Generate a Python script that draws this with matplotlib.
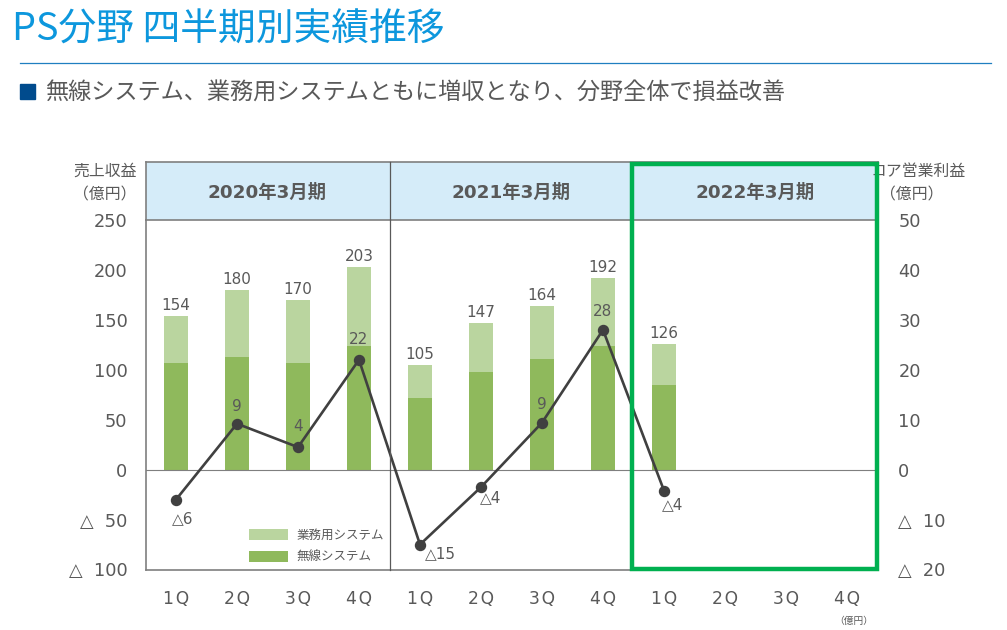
"""
PS segment quarterly results: stacked revenue bars with core operating profit line
"""
import numpy as np
import matplotlib.pyplot as plt
from matplotlib.patches import Rectangle

plt.rcParams['font.family'] = ['DejaVu Sans', 'Noto Sans CJK JP']

#%% Data
quarters = ['1\u200aQ', '2\u200aQ', '3\u200aQ', '4\u200aQ'] * 3
fiscal_years = ['2020年3月期', '2021年3月期', '2022年3月期']
wireless = [107, 113, 107, 124, 72, 98, 111, 124, 85]
business = [47, 67, 63, 79, 33, 49, 53, 68, 41]
totals = [154, 180, 170, 203, 105, 147, 164, 192, 126]
profit = [-6, 9.2, 4.5, 22, -15, -3.5, 9.4, 28, -4.2]
profit_labels = ['△6', '9', '4', '22', '△15', '△4', '9', '28', '△4']
revenue_ticks = [-100, -50, 0, 50, 100, 150, 200, 250]
revenue_tick_labels = ['△  100', '△  50', '0', '50', '100', '150', '200', '250']
profit_ticks = [-20, -10, 0, 10, 20, 30, 40, 50]
profit_tick_labels = ['△  20', '△  10', '0', '10', '20', '30', '40', '50']

#%% Styles
TEXT = '#595959'
FRAME = '#7f7f7f'
W, H = 1007, 630


def box(left, top, right, bottom):
    # pixel box (y from the top) to figure fractions
    return [left / W, 1 - bottom / H, (right - left) / W, (bottom - top) / H]


fig = plt.figure(figsize=(W / 100, H / 100), dpi=100)
ax = fig.add_axes(box(145.5, 220, 877.5, 569.5))
ax_head = fig.add_axes(box(145.5, 162, 877.5, 220))
ax2 = ax.twinx()

#%% Bars
x = np.arange(len(wireless)) + 0.5
bar_wireless = ax.bar(x, wireless, width=0.4, color='#8FB95C', label='無線システム')
bar_business = ax.bar(x, business, width=0.4, bottom=wireless, color='#BAD59F', label='業務用システム')
for xi, top, total in zip(x, np.add(wireless, business), totals):
    ax.annotate(str(total), (xi, top), xytext=(0, 2.2), textcoords='offset points',
                ha='center', va='bottom', fontsize=11, color=TEXT)

ax.axhline(0, color=FRAME, lw=0.8, zorder=1)
ax.set_xlim(0, 12)
ax.set_ylim(-100, 250)
ax.set_xticks(np.arange(12) + 0.5)
ax.set_xticklabels(quarters, fontsize=12.3, color=TEXT)
ax.set_yticks(revenue_ticks)
ax.set_yticklabels(revenue_tick_labels, fontsize=12.8, color=TEXT)
ax.tick_params(axis='x', length=0, pad=15)
ax.tick_params(axis='y', length=0, pad=13)

#%% Profit line
ax2.plot(x, profit, color='#404040', lw=1.9, marker='o', ms=7.2)
ax2.set_ylim(-20, 50)
ax2.set_yticks(profit_ticks)
ax2.set_yticklabels(profit_tick_labels, fontsize=12.8, color=TEXT)
ax2.tick_params(axis='y', length=0, pad=15)

label_offsets = [(5, -8), (0, 7), (0, 9.5), (0, 9), (15, -1), (7, -2.5), (0, 8), (0, 8), (6, -5)]
for xi, yi, text, (dx, dy) in zip(x, profit, profit_labels, label_offsets):
    ax2.annotate(text, (xi, yi), xytext=(dx, dy), textcoords='offset points',
                 ha='center', va='bottom' if dy > 0 else 'top', fontsize=11, color=TEXT)

for a in (ax, ax2):
    for side in ['top', 'right']:
        a.spines[side].set_visible(False)
    for side in ['left', 'bottom']:
        a.spines[side].set_color(FRAME)
        a.spines[side].set_linewidth(1.2)
ax2.spines['left'].set_visible(False)
ax2.spines['bottom'].set_visible(False)
ax2.spines['right'].set_visible(False)

ax.legend(handles=[bar_business, bar_wireless], loc='lower left',
          bbox_to_anchor=(0.136, 0.006), frameon=False, fontsize=9, labelcolor=TEXT,
          handlelength=3.1, handleheight=1.0, handletextpad=0.75, labelspacing=0.72,
          borderpad=0.3, borderaxespad=0)

#%% Header band
ax_head.set_facecolor('#D5ECF9')
ax_head.set_xlim(0, 12)
ax_head.set_ylim(0, 1)
ax_head.set_xticks([])
ax_head.set_yticks([])
for spine in ax_head.spines.values():
    spine.set_color(FRAME)
    spine.set_linewidth(1.2)
for xc, label in zip([2, 6, 10], fiscal_years):
    ax_head.text(xc, 0.47, label, ha='center', va='center', fontsize=13.2,
                 fontweight='bold', color=TEXT)

#%% Figure level text and overlays (pixel coordinates through a shared transform)
px = fig.add_axes([0, 0, 1, 1], facecolor='none')
px.set_xlim(0, W)
px.set_ylim(H, 0)
px.axis('off')

px.plot([389.5, 389.5], [162, 570], color=TEXT, lw=0.9)
px.plot([20, 991], [63, 63], color='#1F7FC0', lw=0.9)
px.add_patch(Rectangle((20, 84), 15, 15, color='#004B8D'))

cjk = ['Noto Sans CJK JP', 'DejaVu Sans']
px.text(12, 30, 'PS分野 四半期別実績推移', fontsize=27.2, color='#0D97DD',
        family=cjk, va='center', ha='left')
px.text(45, 93, '無線システム、業務用システムともに増収となり、分野全体で損益改善',
        fontsize=16.7, color=TEXT, family=cjk, va='center', ha='left')
px.text(105.5, 171, '売上収益', fontsize=11.4, color=TEXT, family=cjk, ha='center', va='center')
px.text(105, 195, '（億円）', fontsize=11.4, color=TEXT, family=cjk, ha='center', va='center')
px.text(966, 171, 'コア営業利益', fontsize=11.4, color=TEXT, family=cjk, ha='right', va='center')
px.text(912, 195, '（億円）', fontsize=11.4, color=TEXT, family=cjk, ha='center', va='center')
px.text(854, 621, '（億円）', fontsize=7, color=TEXT, family=cjk, ha='center', va='center')

# green highlight box sits above the clipped axis title
px.add_patch(Rectangle((632, 164), 245, 404.5, fill=False, edgecolor='#00B050', lw=3.2, zorder=5))

fig.savefig('out.png', dpi=100)
